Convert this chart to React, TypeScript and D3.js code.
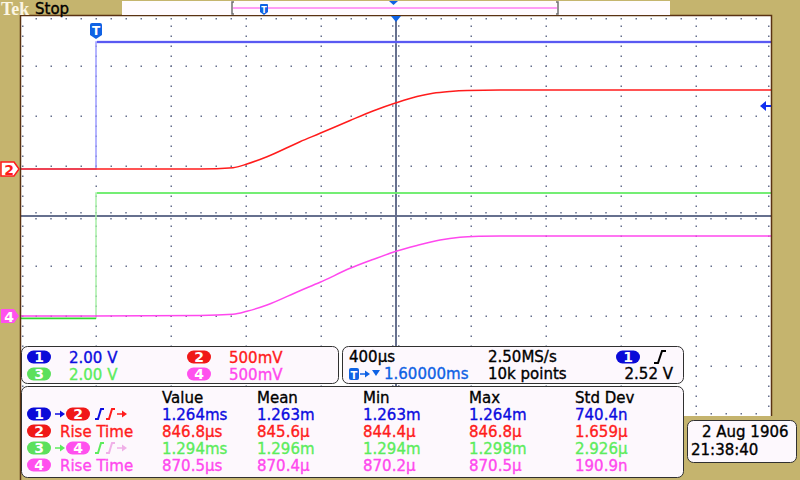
import React from 'react';
import * as d3 from 'd3';

// time axis (ms, relative to trigger) and channel data
const timeDomain = [-0.4, 3.6];

const ch1Time = [-0.4, 0, 0, 3.6];
const ch1Volts = [0, 0, 5.08, 5.08];

const ch3Time = [-0.4, 0, 0, 3.6];
const ch3Volts = [0, 0, 5.0, 5.0];

const ch2Time = [-0.4, 0.555, 0.731, 0.805, 0.912, 1.088, 1.195, 1.355, 1.477, 1.605, 1.712, 1.797, 1.888, 1.979, 2.155, 3.6];
const ch2Volts = [0, 0, 0.013, 0.05, 0.123, 0.273, 0.357, 0.485, 0.58, 0.665, 0.725, 0.757, 0.775, 0.785, 0.79, 0.79];

const ch4Time = [-0.4, 0.555, 0.731, 0.805, 0.912, 1.088, 1.195, 1.355, 1.477, 1.605, 1.712, 1.835, 1.941, 2.048, 2.155, 3.6];
const ch4Volts = [0, 0.005, 0.017, 0.047, 0.11, 0.253, 0.337, 0.477, 0.565, 0.65, 0.705, 0.76, 0.787, 0.797, 0.8, 0.8];

// volts per division and ground offset (divisions from centre)
const voltsPerDiv = [2, 0.5, 2, 0.5];
const groundOffset = [0.94, 0.94, -2.04, -2.0];
const triggerLevel = 2.52;

// panel texts
const scaleLabels = ['2.00 V', '500mV', '2.00 V', '500mV'];
const measHeaders = ['Value', 'Mean', 'Min', 'Max', 'Std Dev'];
const measRow1 = ['1.264ms', '1.263m', '1.263m', '1.264m', '740.4n'];
const measRow2 = ['846.8µs', '845.6µ', '844.4µ', '846.8µ', '1.659µ'];
const measRow3 = ['1.294ms', '1.296m', '1.294m', '1.298m', '2.926µ'];
const measRow4 = ['870.5µs', '870.4µ', '870.2µ', '870.5µ', '190.9n'];

const TAN = '#c5b46e';
const PANEL = '#fdf8fd';
const GRID = '#66708e';
const BORDER = '#5a3212';
const C = ['#0c0ce0', '#ff1c1c', '#5cec5c', '#ff48ee'];
const PILL = ['#0a0ad8', '#f01818', '#5ce05c', '#ff50ee'];
const TBLUE = '#0f62e4';
const FONT = '"DejaVu Sans", sans-serif';

const PL = 21, PR = 771, PT = 16, PB = 416;

// text with a thin outline in its own colour, to get the heavier screen font look
const T = ({ x, y, fill, anchor, children }: { x: number; y: number; fill: string; anchor?: string; children: React.ReactNode }) => (
  <text x={x} y={y} fontSize={15} fill={fill} stroke={fill} strokeWidth={0.35} textAnchor={anchor || 'start'}>{children}</text>
);

const Pill = ({ x, y, ch }: { x: number; y: number; ch: number }) => (
  <g>
    <rect x={x} y={y - 6.5} width={24} height={13} rx={6.5} fill={PILL[ch]} />
    <text x={x + 12} y={y + 5} textAnchor="middle" fontSize={14} fontWeight="bold" fill="white" fontFamily={FONT}>{ch + 1}</text>
  </g>
);

const Arrow = ({ x, y, color }: { x: number; y: number; color: string }) => (
  <g>
    <line x1={x} y1={y} x2={x + 6} y2={y} stroke={color} strokeWidth={1.5} />
    <path d={`M${x + 5},${y - 3.5}L${x + 10},${y}L${x + 5},${y + 3.5}Z`} fill={color} />
  </g>
);

const Edge = ({ x, y, color }: { x: number; y: number; color: string }) => (
  <path d={`M${x},${y + 5}L${x + 3},${y + 5}L${x + 6},${y - 5}L${x + 9},${y - 5}`} fill="none" stroke={color} strokeWidth={2} />
);

export default function App() {
  const x = d3.scaleLinear().domain(timeDomain).range([PL, PR]);
  const div = d3.scaleLinear().domain([-4, 4]).range([PB, PT]);
  const yCh = (ch: number) => (v: number) => div(groundOffset[ch] + v / voltsPerDiv[ch]);

  const mkLine = (ch: number, curve: d3.CurveFactory) =>
    d3.line<number>().x((_, i) => x([ch1Time, ch2Time, ch3Time, ch4Time][ch][i]))
      .y(v => yCh(ch)(v)).curve(curve);

  const ch1Path = mkLine(0, d3.curveLinear)(ch1Volts) || '';
  const ch3Path = mkLine(2, d3.curveLinear)(ch3Volts) || '';
  const ch2Path = mkLine(1, d3.curveMonotoneX)(ch2Volts) || '';
  const ch4Path = mkLine(3, d3.curveMonotoneX)(ch4Volts) || '';

  const xDivs = d3.range(1, 10).map(i => PL + i * 75);
  const yDivs = d3.range(1, 8).map(i => PT + i * 50);
  const cx = x(1.6), cy = div(0);

  const dots: JSX.Element[] = [];
  xDivs.forEach(gx => {
    if (gx === cx) return;
    d3.range(PT + 10, PB, 10).forEach(gy => dots.push(<rect key={`v${gx}-${gy}`} x={gx - 0.5} y={gy - 0.5} width={1.5} height={1.5} fill={GRID} />));
  });
  yDivs.forEach(gy => {
    if (gy === cy) return;
    d3.range(PL + 15, PR, 15).forEach(gx => dots.push(<rect key={`h${gx}-${gy}`} x={gx - 0.5} y={gy - 0.5} width={1.5} height={1.5} fill={GRID} />));
  });
  // edge ticks
  d3.range(PL + 15, PR, 15).forEach(gx => {
    dots.push(<rect key={`et${gx}`} x={gx - 0.5} y={PT + 2} width={1.5} height={1.5} fill={GRID} />);
    dots.push(<rect key={`eb${gx}`} x={gx - 0.5} y={PB - 3} width={1.5} height={1.5} fill={GRID} />);
  });
  d3.range(PT + 10, PB, 10).forEach(gy => {
    dots.push(<rect key={`el${gy}`} x={PL + 1} y={gy - 0.5} width={1.5} height={1.5} fill={GRID} />);
    dots.push(<rect key={`er${gy}`} x={PR - 3} y={gy - 0.5} width={1.5} height={1.5} fill={GRID} />);
  });
  // centre ticks
  d3.range(PL + 15, PR, 15).forEach(gx => dots.push(<line key={`ch${gx}`} x1={gx} y1={cy - 4} x2={gx} y2={cy + 4} stroke={GRID} strokeWidth={1.5} strokeDasharray="1.5 1.5" />));
  d3.range(PT + 10, PB, 10).forEach(gy => dots.push(<line key={`cv${gy}`} x1={cx - 4} y1={gy} x2={cx + 4} y2={gy} stroke={GRID} strokeWidth={1.5} strokeDasharray="1.5 1.5" />));

  const trigX = x(0);
  const trigY = yCh(0)(triggerLevel);
  const g2 = yCh(1)(0), g4 = yCh(3)(0);

  const cols = [162, 257, 363, 469, 575];
  const rows = [measRow1, measRow2, measRow3, measRow4];
  const rowY = [414, 431, 448, 465];

  return (
    <svg width={800} height={480} style={{ position: 'absolute', left: 0, top: 0, display: 'block' }} fontFamily={FONT}>
      <rect width={800} height={480} fill={TAN} />
      <rect x={PL} y={PT} width={PR - PL} height={PB - PT} fill="white" />

      {/* graticule */}
      {dots}
      <line x1={PL} y1={cy} x2={PR} y2={cy} stroke={GRID} strokeWidth={2} />
      <line x1={cx} y1={PT} x2={cx} y2={PB} stroke={GRID} strokeWidth={2} />

      {/* traces */}
      <path d={ch3Path} fill="none" stroke="#a8f0a8" strokeWidth={1.5} />
      <line x1={trigX + 1} y1={yCh(2)(5)} x2={PR} y2={yCh(2)(5)} stroke={C[2]} strokeWidth={1.5} />
      <line x1={PL} y1={yCh(2)(0) + 0.5} x2={trigX} y2={yCh(2)(0) + 0.5} stroke="#30d830" strokeWidth={1.5} />
      <path d={ch1Path} fill="none" stroke="#9c9cff" strokeWidth={1.5} />
      <line x1={trigX + 1} y1={yCh(0)(5.08)} x2={PR} y2={yCh(0)(5.08)} stroke="#a0a0ff" strokeWidth={2.5} />
      <line x1={trigX + 1} y1={yCh(0)(5.08)} x2={PR} y2={yCh(0)(5.08)} stroke="#1414e6" strokeWidth={1.2} />
      <path d={ch2Path} fill="none" stroke={C[1]} strokeWidth={1.5} />
      <path d={ch4Path} fill="none" stroke={C[3]} strokeWidth={1.5} />

      {/* plot border */}
      <path d={`M${PL - 0.5},${480}V${PT - 0.5}H${PR + 0.5}V${PB}`} fill="none" stroke={BORDER} strokeWidth={1.5} />

      {/* trigger markers */}
      <path d={`M${trigX - 6},${PT + 9}q0,-2 2,-2h8q2,0 2,2v10l-6,4l-6,-4z`} fill={TBLUE} />
      <text x={trigX} y={PT + 19} textAnchor="middle" fontSize={12} fontWeight="bold" fill="white">T</text>
      <path d={`M${cx - 5},${PT}L${cx + 5},${PT}L${cx},${PT + 6}Z`} fill={TBLUE} />
      <path d={`M${PR - 11},${trigY}L${PR - 5},${trigY - 5}L${PR - 5},${trigY + 5}Z`} fill="#1030f0" />
      <line x1={PR - 6} y1={trigY} x2={PR} y2={trigY} stroke="#1030f0" strokeWidth={2} />

      {/* ground markers */}
      <path d={`M1,${g2 - 7}H14L19,${g2}L14,${g2 + 7}H1Z`} fill="white" stroke={C[1]} strokeWidth={1.5} />
      <text x={9} y={g2 + 5.5} textAnchor="middle" fontSize={14} fontWeight="bold" fill={C[1]}>2</text>
      <path d={`M1,${g4 - 7}H14L19,${g4}L14,${g4 + 7}H1Z`} fill={PILL[3]} />
      <text x={9} y={g4 + 5.5} textAnchor="middle" fontSize={14} fontWeight="bold" fill="white">4</text>

      {/* top bar */}
      <text x={1} y={15} fontFamily='"Liberation Serif", serif' fontWeight="bold" fontSize={18} fill="#fcf6e4">Tek</text>
      <T x={35} y={14} fill="black">Stop</T>
      <rect x={122} y={1} width={548} height={14} fill="#fffbfe" />
      <line x1={233} y1={8} x2={557} y2={8} stroke="#ff40f0" strokeWidth={1.2} />
      <path d="M234,2H232V14H234" fill="none" stroke="#707070" strokeWidth={1.5} />
      <path d="M556,2H558V14H556" fill="none" stroke="#707070" strokeWidth={1.5} />
      <path d="M260,5q0,-1 1,-1h6q1,0 1,1v7l-4,3l-4,-3z" fill={TBLUE} />
      <text x={264} y={13} textAnchor="middle" fontSize={8} fontWeight="bold" fill="white">T</text>
      <path d="M389,1L398,1L393.5,5Z" fill={TBLUE} />

      {/* channel scale panel */}
      <rect x={21.5} y={346.5} width={317} height={37} rx={6} fill={PANEL} stroke="#303030" />
      {[0, 1, 2, 3].map(ch => {
        const col = ch % 2, row = Math.floor(ch / 2);
        const px = col === 0 ? 27 : 187;
        const py = row === 0 ? 357 : 374;
        return (
          <g key={`sc${ch}`}>
            <Pill x={px} y={py} ch={ch} />
            <T x={px + 42} y={py + 5.5} fill={C[ch]}>{scaleLabels[ch]}</T>
          </g>
        );
      })}

      {/* timebase panel */}
      <rect x={342.5} y={346.5} width={341} height={37} rx={6} fill={PANEL} stroke="#303030" />
      <T x={349} y={362} fill="black">400µs</T>
      <T x={488} y={362} fill="black">2.50MS/s</T>
      <Pill x={616} y={357} ch={0} />
      <path d="M654,363H658L662,351H666" fill="none" stroke="black" strokeWidth={2} />
      <rect x={349} y={368} width={10} height={12} rx={2} fill={TBLUE} />
      <text x={354} y={378.5} textAnchor="middle" fontSize={10} fontWeight="bold" fill="white">T</text>
      <Arrow x={360} y={374} color={TBLUE} />
      <path d="M372,370H380L376,376Z" fill={TBLUE} />
      <T x={384} y={379} fill={TBLUE}>1.60000ms</T>
      <T x={488} y={379} fill="black">10k points</T>
      <T x={673} y={379} anchor="end" fill="black">2.52 V</T>

      {/* measurement panel */}
      <rect x={21.5} y={386.5} width={662} height={91} rx={6} fill={PANEL} stroke="#303030" />
      {measHeaders.map((h, i) => (
        <T key={h} x={cols[i]} y={403} fill="black">{h}</T>
      ))}
      <Pill x={27} y={rowY[0]} ch={0} />
      <Arrow x={55} y={rowY[0]} color={C[0]} />
      <Pill x={66} y={rowY[0]} ch={1} />
      <Edge x={95} y={rowY[0]} color={C[0]} />
      <Edge x={106} y={rowY[0]} color={C[1]} />
      <Arrow x={117} y={rowY[0]} color={C[1]} />
      <Pill x={27} y={rowY[1]} ch={1} />
      <T x={60} y={rowY[1] + 5.5} fill={C[1]}>Rise Time</T>
      <Pill x={27} y={rowY[2]} ch={2} />
      <Arrow x={55} y={rowY[2]} color={C[2]} />
      <Pill x={66} y={rowY[2]} ch={3} />
      <Edge x={95} y={rowY[2]} color={C[2]} />
      <Edge x={106} y={rowY[2]} color="#f0b0e8" />
      <Arrow x={117} y={rowY[2]} color="#f0b0e8" />
      <Pill x={27} y={rowY[3]} ch={3} />
      <T x={60} y={rowY[3] + 5.5} fill={C[3]}>Rise Time</T>
      {rows.map((r, ri) => r.map((v, ci) => (
        <T key={`m${ri}-${ci}`} x={cols[ci]} y={rowY[ri] + 5.5} fill={C[ri]}>{v}</T>
      )))}

      {/* date box */}
      <rect x={687.5} y={420.5} width={109} height={42} rx={6} fill={PANEL} stroke="#303030" />
      <T x={702} y={437} fill="black">2 Aug 1906</T>
      <T x={691} y={455} fill="black">21:38:40</T>
    </svg>
  );
}
